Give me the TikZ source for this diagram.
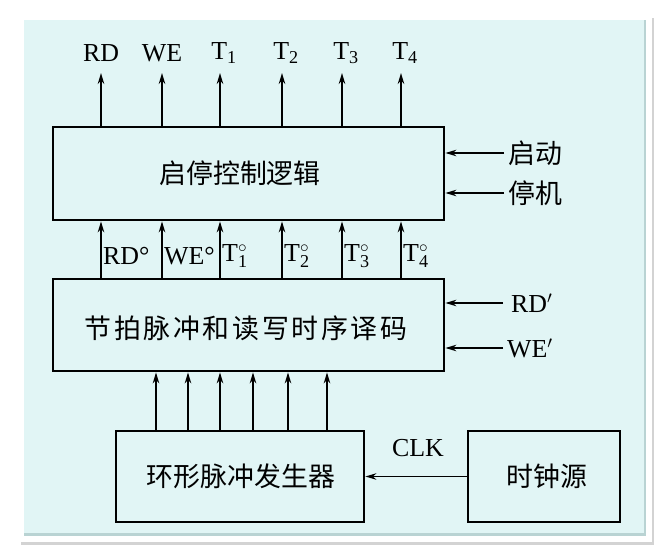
\documentclass[tikz,border=0pt]{standalone}
\usepackage{fontspec}
\setmainfont{Liberation Serif}
\setmathrm{Liberation Serif}
\newfontfamily\cjk{Noto Sans CJK SC}
\usetikzlibrary{arrows.meta,shadows}
\definecolor{panel}{HTML}{E1F5F5}
\definecolor{bevel}{HTML}{B9D3D3}
\tikzset{
  blk/.style={draw=black,line width=2.8bp,fill=panel,inner sep=0pt},
  arr/.style={line width=1.6bp,-{Stealth[length=11bp,width=6.5bp]}},
  lat/.style={font=\fontsize{26}{28}\selectfont,inner sep=1bp},
  zh/.style={font=\cjk\fontsize{27}{30}\selectfont},
}
\newcommand{\Tsc}[1]{$\mathrm{T}^{\circ}_{\mathrm{#1}}$}
\newcommand{\Tsb}[1]{$\mathrm{T}_{\mathrm{#1}}$}
\begin{document}
\begin{tikzpicture}[x=1bp,y=-1bp]
\useasboundingbox (0,0) rectangle (666,558);
% frame
\fill[white,drop shadow={shadow xshift=2bp,shadow yshift=-3bp,opacity=0.35}] (19,15) rectangle (652,542);
\fill[bevel] (24,20) rectangle (646,536);
\fill[panel] (24,20) rectangle (644,533);
% blocks
\node[blk,minimum width=391bp,minimum height=93bp] (ctrl) at (248.5,173.5) {};
\node[zh] (ctrlt) at (240,173.5) {启停控制逻辑};
\node[blk,minimum width=391bp,minimum height=92bp] (dec) at (248.5,325) {};
\node[zh,font=\cjk\fontsize{27}{30}\selectfont\addfontfeature{LetterSpace=10}] (dect) at (246,328) {节拍脉冲和读写时序译码};
\node[blk,minimum width=248bp,minimum height=91bp] (gen) at (240,476.5) {};
\node[zh] (gent) at (241,476.5) {环形脉冲发生器};
\node[blk,minimum width=152bp,minimum height=91bp] (clk) at (544,476.5) {};
\node[zh] (clkt) at (547,476.5) {时钟源};
% top outputs
\foreach \x/\n/\t/\s in {101/o1/RD/0,162/o2/WE/0,220/o3/\Tsb{1}/4,282/o4/\Tsb{2}/4,342/o5/\Tsb{3}/4,401/o6/\Tsb{4}/4}{
  \node[lat] (\n) at (\x+\s,53) {\t};
  \coordinate (\n tip) at (\x,73);
  \draw[arr] (ctrl.north -| \n tip) -- (\n tip);
}
% decoder to control
\foreach \x/\n/\t in {101/m1/RD°,162/m2/WE°,220/m3/\Tsc{1},282/m4/\Tsc{2},342/m5/\Tsc{3},401/m6/\Tsc{4}}{
  \coordinate (\n base) at (\x,279);
  \draw[arr] (\n base) -- (ctrl.south -| \n base);
  \node[lat,anchor=west] (\n) at (\x+1,256) {\t};
}
% generator to decoder
\foreach \x/\n in {156/g1,188/g2,220/g3,253/g4,288/g5,327/g6}{
  \coordinate (\n) at (\x,431);
  \draw[arr] (\n) -- (dec.south -| \n);
}
% right inputs
\node[zh,anchor=west,inner sep=0pt] (qd) at (508,153) {启动};
\node[zh,anchor=west,inner sep=0pt] (tj) at (508,193) {停机};
\draw[arr] (qd.west) ++(-4,0) coordinate (qds) -- (ctrl.east |- qds);
\draw[arr] (tj.west) ++(-4,0) coordinate (tjs) -- (ctrl.east |- tjs);
\node[lat,anchor=west,inner sep=0pt] (rdp) at (511,303) {RD$'$};
\node[lat,anchor=west,inner sep=0pt] (wep) at (507,348) {WE$'$};
\coordinate (rds) at (503,303);
\coordinate (wes) at (503,348);
\draw[arr] (rds) -- (dec.east |- rds);
\draw[arr] (wes) -- (dec.east |- wes);
% clock
\draw[arr] (clk.west) -- (gen.east);
\node[lat] (clkl) at (418,448) {CLK};
\end{tikzpicture}
\end{document}
